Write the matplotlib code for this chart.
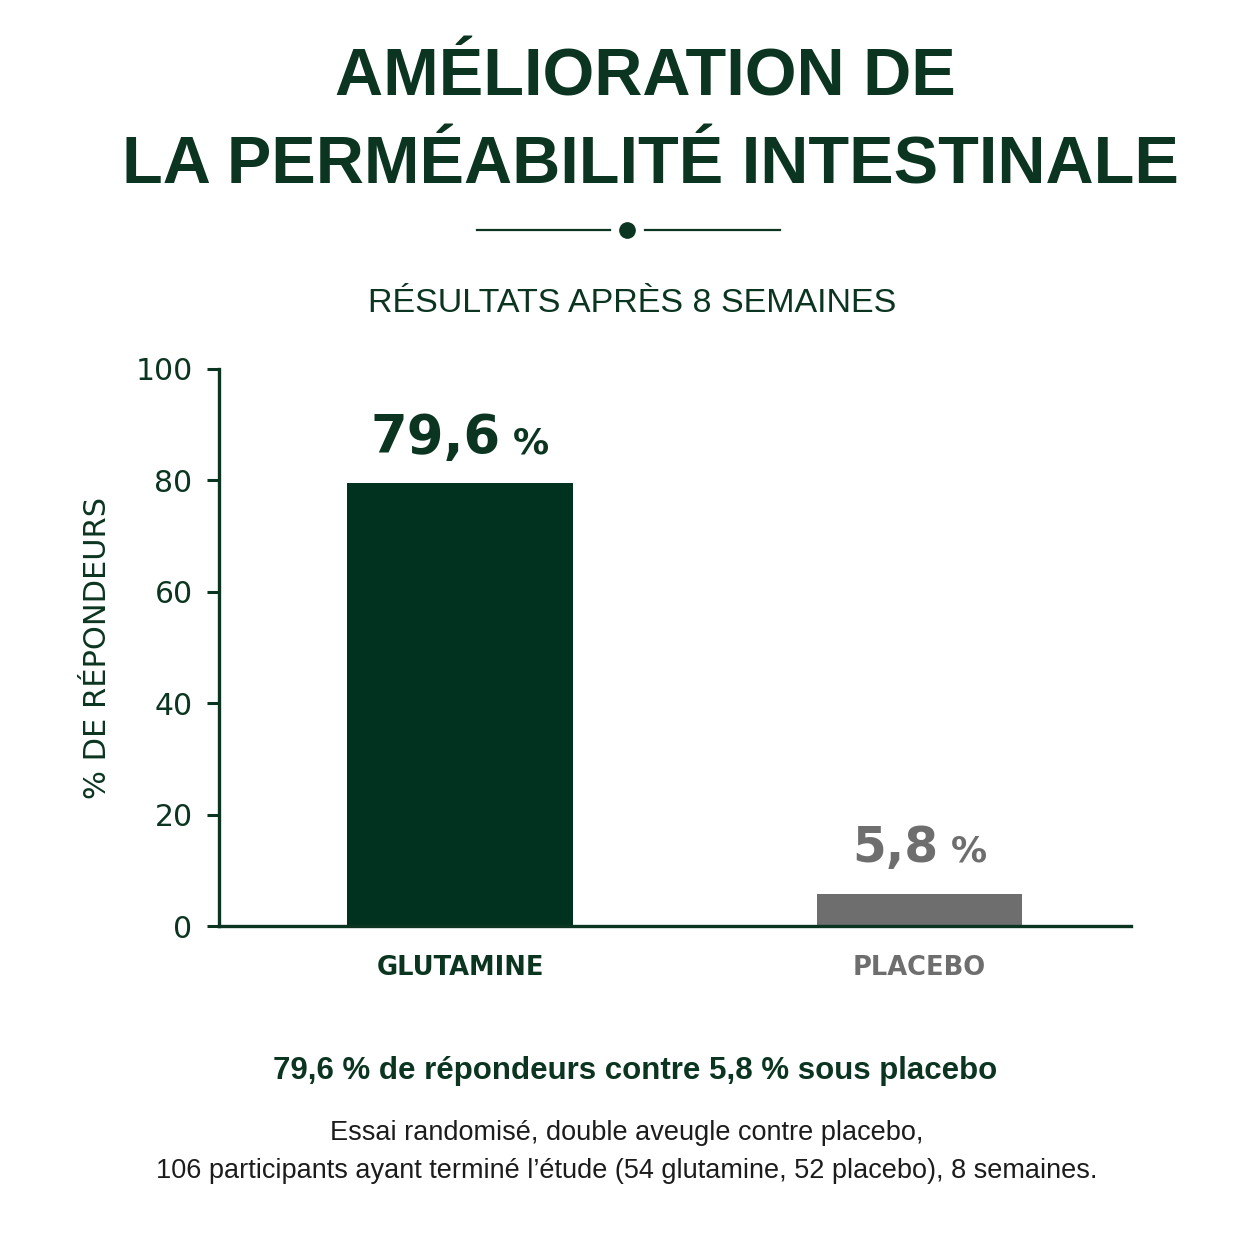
import matplotlib
matplotlib.use("Agg")
import matplotlib.pyplot as plt

# Data
categories = ["GLUTAMINE", "PLACEBO"]
values = [79.6, 5.8]
value_labels = ["79,6", "5,8"]
yticks = [0, 20, 40, 60, 80, 100]

title_lines = ["AMÉLIORATION DE", "LA PERMÉABILITÉ INTESTINALE"]
subtitle = "RÉSULTATS APRÈS 8 SEMAINES"
ylabel = "% DE RÉPONDEURS"
summary = "79,6 % de répondeurs contre 5,8 % sous placebo"
footnote = ("Essai randomisé, double aveugle contre placebo,\n"
            "106 participants ayant terminé l’étude (54 glutamine, 52 placebo), 8 semaines.")

GREEN = "#0b3520"
BAR_GREEN = "#00331f"
GREY = "#6e6e6e"
SANS = ["Liberation Sans", "DejaVu Sans"]

W = 1254
fig = plt.figure(figsize=(12.54, 12.54), dpi=100)
fig.patch.set_facecolor("white")

# Title block
for line, xc, ybase in zip(title_lines, [645, 650], [95, 183]):
    fig.text(xc / W, 1 - ybase / W, line, ha="center", va="baseline", fontsize=48,
             fontweight="bold", family=SANS, color=GREEN)
ydiv = 1 - 230 / W
fig.lines.append(plt.Line2D([477 / W, 610 / W], [ydiv, ydiv], transform=fig.transFigure,
                            color=GREEN, lw=1.6))
fig.lines.append(plt.Line2D([645 / W, 780 / W], [ydiv, ydiv], transform=fig.transFigure,
                            color=GREEN, lw=1.6))
fig.lines.append(plt.Line2D([627 / W], [ydiv], transform=fig.transFigure,
                            marker="o", markersize=11, color=GREEN, lw=0))
fig.text(632 / W, 1 - 312 / W, subtitle, ha="center", va="baseline", fontsize=24.5,
         family=SANS, color=GREEN)

# Chart
ax = fig.add_axes([219 / W, 1 - 926 / W, (1131 - 219) / W, (926 - 369) / W])
x = [0, 1]
ax.bar(x[0], values[0], width=0.49, color=BAR_GREEN)
ax.bar(x[1], values[1], width=0.446, color=GREY)
ax.set_xlim(-0.5245, 1.460)
ax.set_ylim(0, 100)
ax.set_yticks(yticks)
ax.set_yticklabels([str(t) for t in yticks], fontsize=21.5, color=GREEN)
ax.set_xticks(x)
ax.set_xticklabels(categories, fontsize=18.5, fontweight="bold")
for lbl, c in zip(ax.get_xticklabels(), [GREEN, GREY]):
    lbl.set_color(c)
ax.tick_params(axis="y", length=9, width=2.2, color=GREEN, pad=10)
ax.tick_params(axis="x", length=0, pad=21)
for s in ["top", "right"]:
    ax.spines[s].set_visible(False)
for s in ["left", "bottom"]:
    ax.spines[s].set_color(GREEN)
    ax.spines[s].set_linewidth(2.4)
ax.set_ylabel(ylabel, fontsize=22, color=GREEN)
ax.yaxis.set_label_coords(-0.117, 0.5)

# Value labels with smaller percent sign, centred as a group
renderer = fig.canvas.get_renderer()
num_sizes = [38, 35]
pct_sizes = [26, 26]
offsets = [21, 23]
colors = [GREEN, GREY]
for xi, v, lab, ns, ps, off, c in zip(x, values, value_labels, num_sizes, pct_sizes, offsets, colors):
    tn = ax.annotate(lab, (xi, v), xytext=(0, off), textcoords="offset points",
                     ha="left", va="baseline", fontsize=ns, fontweight="bold", color=c)
    tp = ax.annotate("%", (xi, v), xytext=(0, off), textcoords="offset points",
                     ha="left", va="baseline", fontsize=ps, fontweight="bold", color=c)
    wn = tn.get_window_extent(renderer).width * 72 / fig.dpi
    wp = tp.get_window_extent(renderer).width * 72 / fig.dpi
    gap = 9
    total = wn + gap + wp
    tn.set_position((-total / 2, off))
    tp.set_position((-total / 2 + wn + gap, off))

# Bottom texts
fig.text(635 / W, 1 - 1071 / W, summary, ha="center", va="center", fontsize=22.5,
         fontweight="bold", family=SANS, color=GREEN)
fig.text(0.5, 1 - 1152 / W, footnote, ha="center", va="center", fontsize=19.5,
         family=SANS, color="#1c1c1c", linespacing=1.6)

fig.savefig("out.png", dpi=100, facecolor="white")
